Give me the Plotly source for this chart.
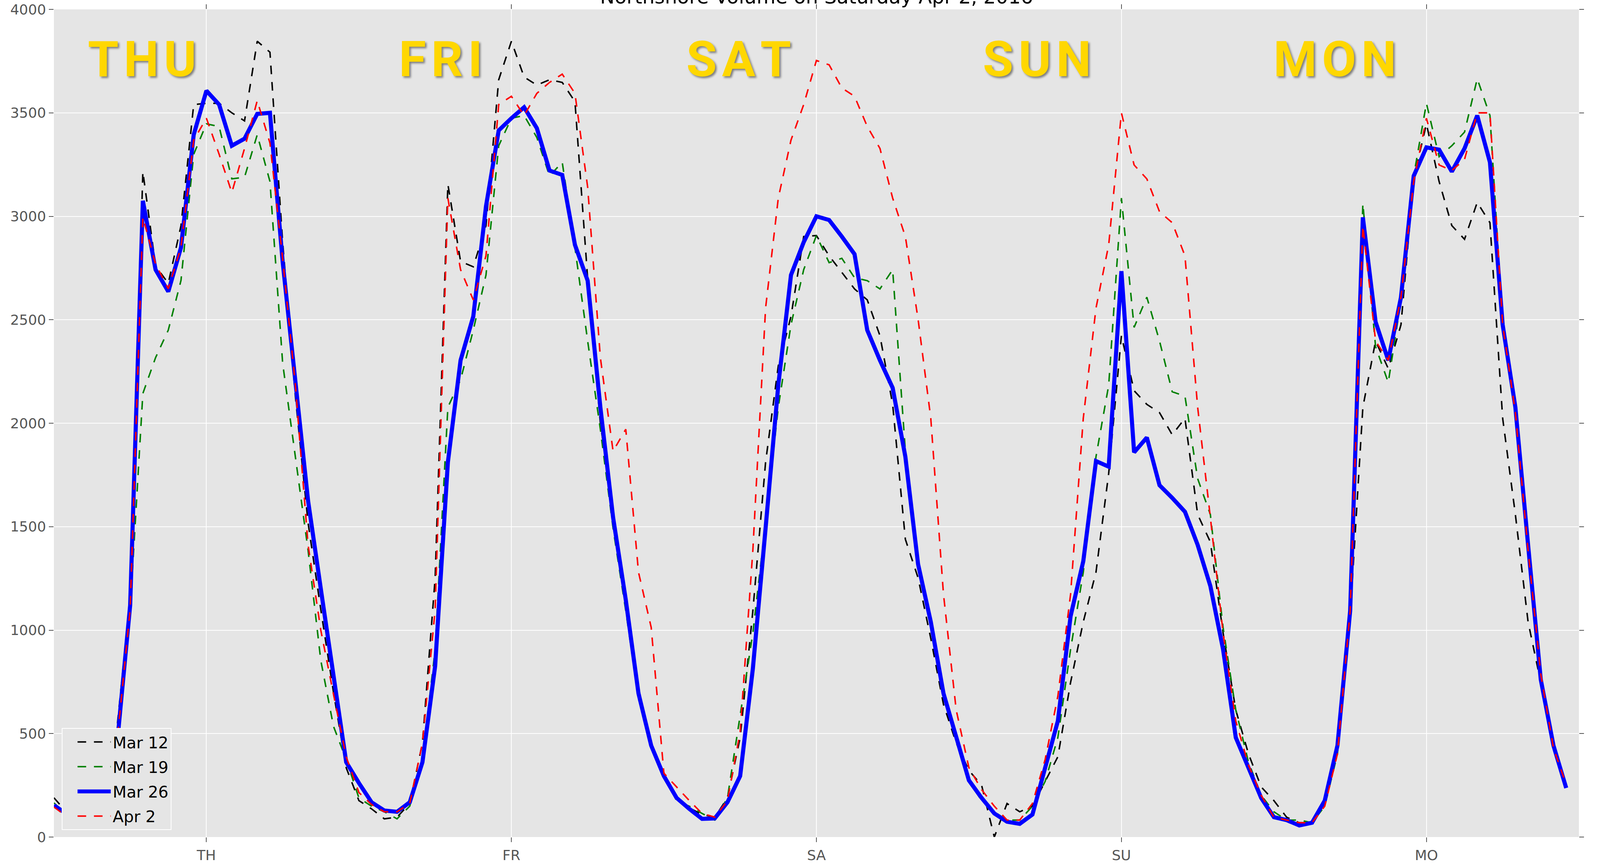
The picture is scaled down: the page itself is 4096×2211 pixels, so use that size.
import plotly.graph_objects as go

# ---------------- data ----------------
hours = list(range(120))
tick_hours = [12, 36, 60, 84, 108]
tick_labels = ["TH", "FR", "SA", "SU", "MO"]
day_labels = ["THU", "FRI", "SAT", "SUN", "MON"]
series_names = ["Mar 12", "Mar 19", "Mar 26", "Apr 2"]
title_text = "Northshore Volume on Saturday Apr 2, 2016"

mar12 = [190, 120, 80, 85, 190, 550, 1150, 3216, 2760, 2676, 2955, 3540, 3546, 3546, 3500, 3461, 3846, 3793, 2875, 2130,
         1519, 1100, 700, 335, 176, 136, 88, 96, 162, 455, 1253, 3155, 2782, 2756, 2955, 3660, 3846, 3673, 3634, 3660,
         3647, 3554, 2700, 2000, 1570, 1173, 720, 455, 308, 189, 141, 109, 96, 189, 481, 1093, 1811, 2277, 2516, 2902,
         2907, 2809, 2729, 2649, 2596, 2423, 2091, 1439, 1253, 960, 641, 455, 322, 250, 0, 162, 122, 149, 269, 388,
         747, 1040, 1280, 1758, 2423, 2157, 2091, 2051, 1944, 2024, 1559, 1426, 987, 614, 402, 242, 176, 96, 69, 69,
         162, 428, 1067, 2077, 2397, 2264, 2476, 3181, 3447, 3168, 2955, 2889, 3067, 2969, 2024, 1559, 1040, 747, 428, 237]

mar19 = [165, 110, 80, 90, 170, 450, 1100, 2144, 2317, 2450, 2690, 3300, 3447, 3434, 3181, 3189, 3394, 3168, 2290, 1838,
         1386, 854, 535, 375, 189, 149, 122, 88, 149, 375, 907, 2077, 2210, 2450, 2716, 3341, 3474, 3487, 3381, 3195,
         3261, 2849, 2397, 1971, 1492, 1093, 668, 455, 295, 176, 149, 114, 82, 189, 588, 987, 1519, 2077, 2476, 2742,
         2907, 2776, 2797, 2703, 2689, 2649, 2742, 1865, 1333, 1040, 721, 468, 269, 176, 122, 82, 82, 149, 269, 481,
         907, 1280, 1838, 2184, 3088, 2463, 2609, 2397, 2152, 2131, 1732, 1559, 1013, 614, 362, 202, 122, 82, 82, 69,
         149, 402, 1067, 3062, 2370, 2197, 2596, 3195, 3546, 3288, 3341, 3407, 3665, 3487, 2476, 2051, 1386, 761, 428, 255]

mar26 = [153, 112, 85, 90, 170, 470, 1120, 3075, 2742, 2636, 2849, 3394, 3607, 3540, 3341, 3375, 3495, 3500, 2780, 2184,
         1625, 1200, 780, 362, 261, 168, 128, 122, 168, 362, 827, 1811, 2304, 2516, 3048, 3415, 3474, 3527, 3426, 3221,
         3200, 2862, 2689, 2077, 1545, 1146, 694, 442, 295, 189, 136, 88, 90, 168, 295, 814, 1492, 2184, 2716, 2875,
         3000, 2982, 2902, 2817, 2450, 2304, 2171, 1838, 1319, 1040, 694, 481, 274, 189, 114, 74, 64, 109, 335, 561,
         1067, 1333, 1817, 1790, 2735, 1859, 1931, 1700, 1639, 1572, 1412, 1213, 907, 481, 335, 189, 96, 82, 56, 69,
         176, 442, 1093, 2995, 2490, 2304, 2609, 3195, 3333, 3322, 3216, 3328, 3487, 3261, 2476, 2077, 1412, 761, 442, 237]

apr2 = [145, 100, 80, 85, 175, 480, 1100, 2995, 2770, 2650, 2850, 3368, 3474, 3300, 3115, 3328, 3559, 3354, 2796, 2184,
        1412, 1000, 690, 388, 215, 157, 122, 122, 162, 455, 1100, 3088, 2742, 2596, 2809, 3540, 3580, 3487, 3594, 3647,
        3687, 3594, 3141, 2317, 1865, 1971, 1280, 1013, 308, 242, 176, 114, 96, 176, 508, 1386, 2556, 3088, 3368, 3540,
        3753, 3732, 3620, 3580, 3434, 3328, 3088, 2902, 2503, 2024, 1173, 614, 335, 229, 149, 82, 82, 162, 375, 681,
        1173, 2024, 2556, 2862, 3500, 3248, 3181, 3022, 2969, 2809, 2077, 1545, 987, 561, 348, 202, 96, 82, 69, 69,
        149, 402, 1093, 2955, 2397, 2304, 2609, 3168, 3474, 3248, 3221, 3275, 3500, 3500, 2476, 2051, 1386, 787, 428, 255]

# ---------------- styling ----------------
W, H = 4096, 2211
FONT = "DejaVu Sans"
styles = [
    dict(color="#000000", width=3.8, dash="22px,20px"),
    dict(color="#008000", width=3.8, dash="22px,20px"),
    dict(color="#0000FF", width=10.5, dash="solid"),
    dict(color="#FF0000", width=3.8, dash="22px,20px"),
]
values = [mar12, mar19, mar26, apr2]

fig = go.Figure()
for name, vals, st in zip(series_names, values, styles):
    fig.add_trace(go.Scatter(x=hours, y=vals, mode="lines", name=name,
                             legendgroup=name, line=st))

annotations = []
day_x = [0.058, 0.2535, 0.449, 0.6445, 0.840]
for lab, xp in zip(day_labels, day_x):
    annotations.append(dict(
        text="\u200a".join(lab), x=xp, y=0.94, xref="paper", yref="paper",
        xanchor="center", yanchor="middle", showarrow=False,
        font=dict(family="Roboto", size=127, color="#FFD700", weight="bold",
                  shadow="4px 4px 5px rgba(0,0,0,0.45)")))
annotations.append(dict(
    text=title_text, x=0.5, y=1.0, xref="paper", yref="paper",
    xanchor="center", yanchor="bottom", showarrow=False, yshift=1,
    font=dict(family=FONT, size=50, color="#000000")))

axis_common = dict(
    showgrid=True, gridcolor="#FFFFFF", gridwidth=1.8, zeroline=False,
    showline=False, ticks="outside", ticklen=12, tickwidth=1.6, tickcolor="#555555",
    mirror="allticks", automargin=False,
    tickfont=dict(family=FONT, size=36, color="#555555"),
)

fig.update_layout(
    width=W, height=H,
    margin=dict(l=138, r=54, t=24, b=69, pad=0, autoexpand=False),
    paper_bgcolor="#FFFFFF", plot_bgcolor="#E5E5E5",
    font=dict(family=FONT, color="#000000"),
    xaxis=dict(range=[0, 120], tickvals=tick_hours, ticktext=tick_labels,
               ticklabelstandoff=3, **axis_common),
    yaxis=dict(range=[0, 4000], dtick=500, tick0=0, **axis_common),
    showlegend=True,
    legend=dict(x=0.005, y=0.0083, xanchor="left", yanchor="bottom",
                bgcolor="#E5E5E5", bordercolor="#FFFFFF", borderwidth=2,
                font=dict(family=FONT, size=41, color="#000000"),
                itemwidth=85, indentation=34, tracegroupgap=7, traceorder="grouped"),
    annotations=annotations,
)

fig.write_html("out.html", config={"displayModeBar": False},
               post_script="document.body.style.margin='0';document.body.style.overflow='hidden';")
